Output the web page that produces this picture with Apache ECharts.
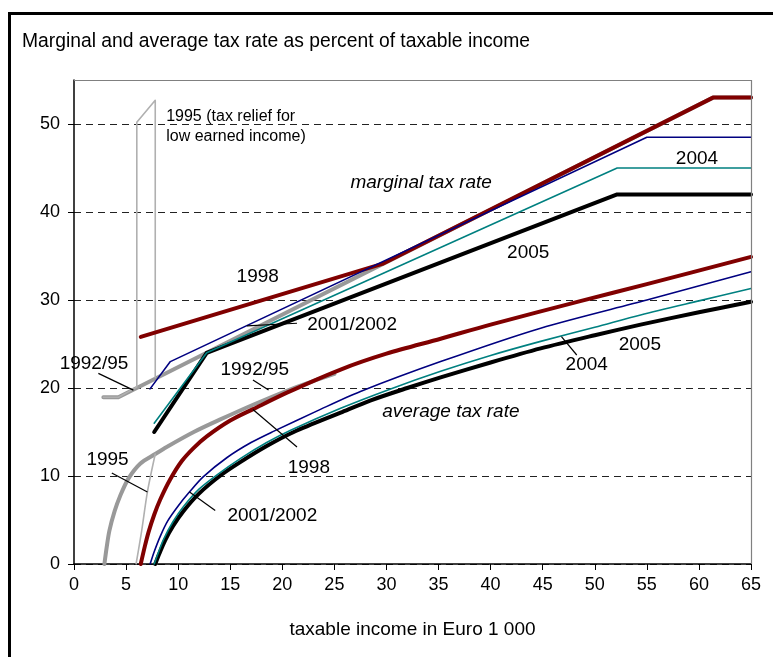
<!DOCTYPE html>
<html><head><meta charset="utf-8">
<script src="https://cdn.jsdelivr.net/npm/echarts@6/dist/echarts.min.js"></script>
<style>html,body{margin:0;padding:0;background:#fff}#c{width:773px;height:657px}</style>
</head><body><div id="c"></div>
<script>
// ---- data (taxable income in Euro 1 000, rate in %) ----
const xTickValues = [0,5,10,15,20,25,30,35,40,45,50,55,60,65];
const yTickValues = [0,10,20,30,40,50];

// marginal tax rates
const marg1992 = [[2.82,18.95],[4.26,18.95],[61.35,53],[65,53]];
const marg1995 = [[2.82,18.95],[4.26,18.95],[6.03,20.1],[6.03,50.2],[7.8,52.7],[7.8,21.2]];
const marg1998 = [[6.41,25.8],[29.6,34.1],[61.35,53],[65,53]];
const marg2001 = [[7.3,19.9],[9.25,23.0],[55.0,48.5],[65,48.5]];
const marg2004 = [[7.7,16.0],[12.74,24.0],[52.15,45.0],[65,45.0]];
const marg2005 = [[7.7,15.0],[12.74,24.0],[52.15,42.0],[65,42.0]];

// average tax rates
const avg1992 = [[2.92,0],[3.15,2.0],[3.4,3.8],[3.9,6.0],[4.42,7.7],[5.22,9.7],[6.35,11.4],[7.8,12.5],[8.9,13.3],[11.5,15.0],[14,16.4],[17.2,18.1],[21.1,20],[23.5,21.0],[25,21.6]];
const avg1995 = [[5.96,0],[6.5,3.8],[7.05,8.2],[7.8,12.5]];
const avg1998 = [[6.41,0],[6.8,2.0],[7.15,3.6],[7.7,5.6],[8.27,7.3],[9.23,9.6],[10.35,11.7],[11.5,13.2],[12.75,14.5],[15,16.3],[17.2,17.6],[20.5,19.5],[25.6,22.1],[30,23.9],[35.2,25.6],[40,27.2],[48.7,29.9],[55,31.8],[65,34.9]];
const avg2001 = [[7.31,0],[7.7,1.4],[8.3,3.2],[9.0,4.9],[10,6.6],[11.1,8.2],[12.4,9.9],[14.7,12.1],[17,13.8],[19.2,15.1],[23.35,17.4],[27.5,19.6],[35.2,23.0],[44.8,26.8],[55,30.0],[65,33.2]];
const avg2004 = [[7.7,0],[8.1,1.3],[8.6,2.8],[9.5,4.8],[10.5,6.5],[12,8.5],[13.7,10.1],[16,12.0],[18.5,13.8],[20.8,15.2],[25.6,17.7],[30.4,19.9],[35.2,21.9],[40,23.7],[44.8,25.3],[50,26.9],[54.4,28.3],[60,29.9],[65,31.3]];
const avg2005 = [[7.8,0],[8.2,1.2],[8.75,2.7],[9.5,4.3],[10.5,6.0],[12,8.0],[14.0,10.0],[16,11.6],[18.5,13.4],[21.1,15.0],[25.6,17.2],[28.5,18.6],[32,20.0],[35.2,21.2],[40,22.9],[44.8,24.5],[50,26.0],[54.4,27.2],[60,28.6],[65,29.8]];

// annotation texts (anchored in data coordinates)
const notes = [
  {t:'1995 (tax relief for', x:8.85, y:50.89, a:'left', s:16},
  {t:'low earned income)', x:8.85, y:48.54, a:'left', s:16},
  {t:'marginal tax rate', x:26.54, y:43.28, a:'left', s:19, i:true},
  {t:'average tax rate', x:29.59, y:17.31, a:'left', s:19, i:true},
  {t:'2004', x:59.81, y:46.01, a:'center', s:19},
  {t:'2005', x:43.61, y:35.42, a:'center', s:19},
  {t:'1998', x:17.64, y:32.63, a:'center', s:19},
  {t:'2001/2002', x:26.7, y:27.16, a:'center', s:19},
  {t:'1992/95', x:1.92, y:22.7, a:'center', s:19},
  {t:'1992/95', x:17.36, y:22.04, a:'center', s:19},
  {t:'1998', x:22.55, y:10.99, a:'center', s:19},
  {t:'1995', x:3.22, y:11.79, a:'center', s:19},
  {t:'2001/2002', x:19.04, y:5.52, a:'center', s:19},
  {t:'2004', x:49.23, y:22.61, a:'center', s:19},
  {t:'2005', x:54.33, y:24.89, a:'center', s:19}
];
const pointers = [
  [2.34,21.66,5.7,19.76],
  [17.18,20.9,18.68,19.76],
  [17.18,17.56,21.41,13.3],
  [3.63,10.34,7.05,8.18],
  [11.09,8.18,13.56,6.07],
  [16.6,27.05,21.41,27.36],
  [46.8,25.83,48.27,23.75]
];

const FONT = 'Liberation Sans, Arial, sans-serif';
const C = {gray:'#999999', light:'#b0b0b0', red:'#800000', blue:'#000080', teal:'#008080', black:'#000000'};

function line(name, data, color, width, smooth, z) {
  return {type:'line', name, data, symbol:'none', smooth: smooth ? 0.3 : false, z: z,
    lineStyle:{color, width, cap:'round', join:'round'}, silent:true, animation:false};
}

const chart = echarts.init(document.getElementById('c'), null, {renderer:'canvas'});
chart.setOption({
  animation:false,
  backgroundColor:'#fff',
  textStyle:{fontFamily:FONT},
  title:{text:'Marginal and average tax rate as percent of taxable income', left:17, top:27,
    textStyle:{fontFamily:FONT, fontSize:19.3, fontWeight:'normal', color:'#000'}},
  grid:{left:74, right:22, top:80, bottom:93, show:false},
  xAxis:{type:'value', min:0, max:65, interval:5,
    name:'taxable income in Euro 1 000', nameLocation:'middle', nameGap:56,
    nameTextStyle:{fontFamily:FONT, fontSize:19, color:'#000'},
    axisLine:{show:true, onZero:false, lineStyle:{color:'#000', width:1.5}},
    axisTick:{show:true, inside:false, length:6, lineStyle:{color:'#000'}},
    axisLabel:{fontFamily:FONT, fontSize:18, color:'#000', margin:12},
    splitLine:{show:false}},
  yAxis:{type:'value', min:0, max:55,
    axisLine:{show:true, lineStyle:{color:'#000', width:1.5}},
    axisTick:{show:true, length:6, customValues:yTickValues, lineStyle:{color:'#000'}},
    axisLabel:{fontFamily:FONT, fontSize:18, color:'#000', margin:14, customValues:yTickValues},
    splitLine:{show:true, lineStyle:{color:'#222', type:[7,5], width:1}}},
  series:[
    line('1992/95 marginal', marg1992, C.gray, 4, false, 2),
    line('1992/95 average', avg1992, C.gray, 4, true, 2),
    line('1995 marginal', marg1995, C.light, 1.6, false, 3),
    line('1995 average', avg1995, C.light, 1.6, true, 3),
    line('2005 marginal', marg2005, C.black, 4, false, 4),
    line('2005 average', avg2005, C.black, 4, true, 4),
    line('1998 marginal', marg1998, C.red, 4, false, 5),
    line('1998 average', avg1998, C.red, 4, true, 5),
    line('2001/2002 marginal', marg2001, C.blue, 1.6, false, 6),
    line('2001/2002 average', avg2001, C.blue, 1.6, true, 6),
    line('2004 marginal', marg2004, C.teal, 1.6, false, 7),
    line('2004 average', avg2004, C.teal, 1.6, true, 7)
  ]
});

function px(x, y) { return chart.convertToPixel({gridIndex:0}, [x, y]); }
const g = [];
// outer frame
g.push({type:'rect', shape:{x:9.5, y:13.5, width:820, height:700}, style:{fill:'none', stroke:'#000', lineWidth:3}, z:100});
// plot border (top & right)
const tl = px(0,55), tr = px(65,55), br = px(65,0);
g.push({type:'polyline', shape:{points:[[tl[0],tl[1]+0.5],[tr[0]+0.5,tr[1]+0.5],[br[0]+0.5,br[1]]]}, style:{fill:'none', stroke:'#808080', lineWidth:1.2}, z:50});
notes.forEach(n => {
  const p = px(n.x, n.y);
  g.push({type:'text', x:p[0], y:p[1], z:60, style:{text:n.t, fill:'#000', align:n.a, verticalAlign:'middle',
    font:(n.i?'italic ':'') + n.s + 'px ' + FONT}});
});
pointers.forEach(q => {
  const a = px(q[0], q[1]), b = px(q[2], q[3]);
  g.push({type:'line', shape:{x1:a[0], y1:a[1], x2:b[0], y2:b[1]}, style:{stroke:'#000', lineWidth:1.2}, z:60});
});
chart.setOption({graphic:g});
</script>
</body></html>
